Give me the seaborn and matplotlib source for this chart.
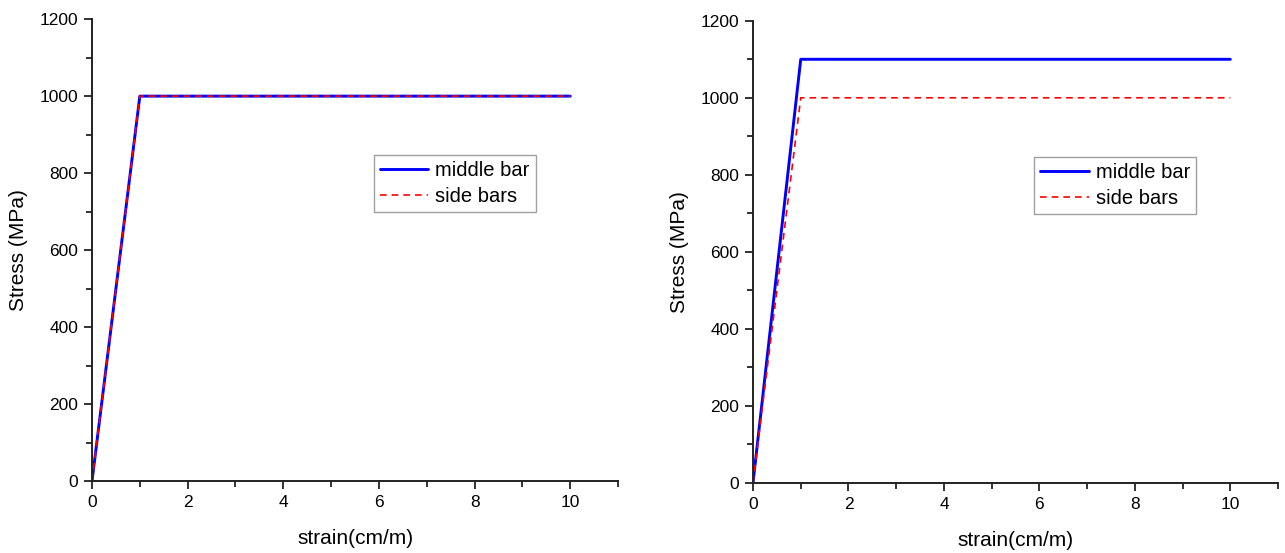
import matplotlib
matplotlib.use("Agg")
import matplotlib.pyplot as plt
from matplotlib.ticker import MultipleLocator
import seaborn as sns
import pandas as pd

# Strain (cm/m) and stress (MPa) for the two load cases
strain = [0, 1, 10]
middle_left = [0, 1000, 1000]
side_left = [0, 1000, 1000]
middle_right = [0, 1100, 1100]
side_right = [0, 1000, 1000]

series_labels = ["middle bar", "side bars"]
x_ticks = [0, 2, 4, 6, 8, 10]
y_ticks = [0, 200, 400, 600, 800, 1000, 1200]

sns.set_theme(style="ticks")
plt.rcParams["font.family"] = ["Liberation Sans", "DejaVu Sans"]
plt.rcParams["text.color"] = "black"
plt.rcParams["axes.labelcolor"] = "black"

fig = plt.figure(figsize=(12.85, 5.53), dpi=100)
ax1 = fig.add_axes([0.0716, 0.130, 0.4094, 0.8354])
ax2 = fig.add_axes([0.5860, 0.127, 0.4086, 0.8354])


def draw(ax, middle, side):
    df = pd.DataFrame({
        "strain": strain * 2,
        "stress": middle + side,
        "bar": [series_labels[0]] * len(strain) + [series_labels[1]] * len(strain),
    })
    sns.lineplot(data=df[df["bar"] == series_labels[0]], x="strain", y="stress",
                 ax=ax, color="#0000ff", linewidth=2.1, label=series_labels[0])
    sns.lineplot(data=df[df["bar"] == series_labels[1]], x="strain", y="stress",
                 ax=ax, color="#ff0000", linewidth=1.2, linestyle=(0, (4, 3)),
                 label=series_labels[1])
    ax.set_xlim(0, 11)
    ax.set_ylim(0, 1200)
    ax.set_xticks(x_ticks)
    ax.set_yticks(y_ticks)
    ax.xaxis.set_minor_locator(MultipleLocator(1))
    ax.yaxis.set_minor_locator(MultipleLocator(100))
    ax.tick_params(which="major", direction="out", length=6, width=1.3,
                   labelsize=12.5, colors="#222222", labelcolor="black", pad=4)
    ax.tick_params(which="minor", direction="out", length=4, width=1.3,
                   colors="#222222")
    for side_name in ["top", "right"]:
        ax.spines[side_name].set_visible(False)
    for side_name in ["left", "bottom"]:
        ax.spines[side_name].set_linewidth(1.4)
        ax.spines[side_name].set_color("#222222")
    ax.set_xlabel("strain(cm/m)", fontsize=15, labelpad=14)
    ax.set_ylabel("Stress (MPa)", fontsize=15, labelpad=8)
    leg = ax.legend(loc="upper left", bbox_to_anchor=(0.536, 0.706),
                    fontsize=14.5, frameon=True, fancybox=False,
                    borderpad=0.3, handlelength=2.4, handletextpad=0.35,
                    labelspacing=0.35, borderaxespad=0)
    leg.get_frame().set_edgecolor("#888888")
    leg.get_frame().set_linewidth(1.0)
    for t in leg.get_texts():
        t.set_color("black")


draw(ax1, middle_left, side_left)
draw(ax2, middle_right, side_right)

fig.savefig("out.png", dpi=100)
